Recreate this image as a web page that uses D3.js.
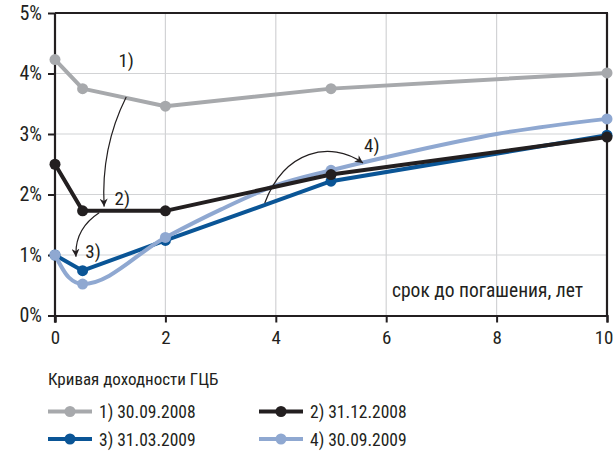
<!DOCTYPE html>
<html>
<head>
<meta charset="utf-8">
<script src="https://cdn.jsdelivr.net/npm/d3@7"></script>
<style>
  body { margin: 0; background: #fff; }
  svg text { font-family: "Liberation Sans Narrow", "Roboto Condensed", "Liberation Sans", sans-serif; fill: #231f20; }
</style>
</head>
<body>
<div id="wrapper"></div>
<script>
// maturities (years) and yields (%)
const mat1 = [0, 0.5, 2, 5, 10];
const yld1 = [4.23, 3.75, 3.46, 3.75, 4.01];
const mat2 = [0, 0.5, 2, 5, 10];
const yld2 = [2.5, 1.73, 1.73, 2.33, 2.95];
const mat3 = [0, 0.5, 2, 5, 10];
const yld3 = [1.0, 0.74, 1.24, 2.22, 2.98];
const mat4 = [0, 0.25, 0.5, 2, 3, 4, 5, 6.5, 8, 10];
const yld4 = [1.0, 0.63, 0.52, 1.29, 1.75, 2.15, 2.40, 2.72, 3.00, 3.25];
const marked4 = [0, 0.5, 2, 5, 10];

const seriesNames = ["1) 30.09.2008", "2) 31.12.2008", "3) 31.03.2009", "4) 30.09.2009"];
const seriesColors = ["#a7a9ac", "#231f20", "#0a5596", "#8fa8d1"];
const xTicks = [0, 2, 4, 6, 8, 10];
const yTicks = [0, 1, 2, 3, 4, 5];

function draw() {
  const dims = { width: 613, height: 455, left: 55, right: 607, top: 13, bottom: 315.5 };

  const svg = d3.select("#wrapper").append("svg")
    .attr("width", dims.width)
    .attr("height", dims.height);

  const xScale = d3.scaleLinear().domain([0, 10]).range([dims.left, dims.right]);
  const yScale = d3.scaleLinear().domain([0, 5]).range([dims.bottom, dims.top]);

  // grid
  const grid = svg.append("g").attr("stroke", "#d2d3d5").attr("stroke-width", 1.2);
  grid.selectAll("line.gx").data(xTicks.slice(1, -1)).enter().append("line")
    .attr("x1", d => xScale(d)).attr("x2", d => xScale(d))
    .attr("y1", yScale(0)).attr("y2", yScale(5));
  grid.selectAll("line.gy").data(yTicks.slice(1, -1)).enter().append("line")
    .attr("x1", xScale(0)).attr("x2", xScale(10))
    .attr("y1", d => yScale(d)).attr("y2", d => yScale(d));

  // axes
  const yAxisGen = d3.axisLeft(yScale).tickValues(yTicks).tickSize(7).tickPadding(6).tickFormat(d => d + "%");
  const xAxisGen = d3.axisBottom(xScale).tickValues(xTicks).tickSize(7).tickPadding(8).tickFormat(d => d);
  const axisY = svg.append("g").attr("transform", `translate(${dims.left},0)`).call(yAxisGen);
  const axisX = svg.append("g").attr("transform", `translate(0,${dims.bottom})`).call(xAxisGen);
  [axisX, axisY].forEach(a => {
    a.select(".domain").attr("stroke", "#231f20").attr("stroke-width", 2.2);
    a.selectAll(".tick line").attr("stroke", "#231f20").attr("stroke-width", 2);
    a.selectAll(".tick text").attr("fill", "#231f20");
  });
  axisY.selectAll(".tick text").attr("font-size", 20);
  axisX.selectAll(".tick text").attr("font-size", 19);
  axisX.selectAll(".tick text").filter(d => d === 10).attr("text-anchor", "end").attr("x", 6);
  axisY.select(".domain").attr("d", `M0,${yScale(0) + 7}V${yScale(5)}`);
  // frame top / right
  svg.append("line").attr("x1", xScale(0)).attr("x2", xScale(10) + 1)
    .attr("y1", yScale(5)).attr("y2", yScale(5))
    .attr("stroke", "#231f20").attr("stroke-width", 2.2);
  svg.append("line").attr("x1", xScale(10)).attr("x2", xScale(10))
    .attr("y1", yScale(5)).attr("y2", yScale(0))
    .attr("stroke", "#231f20").attr("stroke-width", 2.2);

  // axis title
  svg.append("text").attr("x", xScale(10) - 24).attr("y", yScale(0.31))
    .attr("text-anchor", "end").attr("font-size", 19.5)
    .text("срок до погашения, лет");

  // series
  const series = [
    { x: mat1, y: yld1, marks: mat1, color: seriesColors[0], curve: d3.curveLinear },
    { x: mat3, y: yld3, marks: mat3, color: seriesColors[2], curve: d3.curveLinear },
    { x: mat4, y: yld4, marks: marked4, color: seriesColors[3], curve: d3.curveMonotoneX },
    { x: mat2, y: yld2, marks: mat2, color: seriesColors[1], curve: d3.curveLinear }
  ];
  series.forEach(s => {
    const pts = s.x.map((m, i) => [m, s.y[i]]);
    const lineGen = d3.line().x(d => xScale(d[0])).y(d => yScale(d[1])).curve(s.curve);
    svg.append("path").datum(pts)
      .attr("d", lineGen)
      .attr("fill", "none")
      .attr("stroke", s.color)
      .attr("stroke-width", 4)
      .attr("stroke-linejoin", "round");
    svg.selectAll(null).data(pts.filter(d => s.marks.includes(d[0]))).enter()
      .append("circle")
      .attr("cx", d => xScale(d[0]))
      .attr("cy", d => yScale(d[1]))
      .attr("r", 5.5)
      .attr("fill", s.color);
  });

  // arrows
  svg.append("defs").append("marker")
    .attr("id", "head").attr("viewBox", "0 0 10 10")
    .attr("refX", 10).attr("refY", 5)
    .attr("markerWidth", 11).attr("markerHeight", 8)
    .attr("markerUnits", "userSpaceOnUse")
    .attr("orient", "auto")
    .append("path").attr("d", "M0,0L10,5L0,10L3,5Z").attr("fill", "#231f20");

  const P = (m, y) => `${xScale(m)},${yScale(y)}`;
  const arrows = [
    `M${P(1.29, 3.61)}Q${P(0.83, 2.77)} ${P(0.89, 1.80)}`,
    `M${P(0.80, 1.70)}Q${P(0.35, 1.43)} ${P(0.38, 0.97)}`,
    `M${P(3.80, 1.86)}C${P(4.16, 2.73)} ${P(4.98, 2.90)} ${P(5.58, 2.52)}`
  ];
  svg.selectAll("path.arrow").data(arrows).enter().append("path")
    .attr("class", "arrow")
    .attr("d", d => d)
    .attr("fill", "none")
    .attr("stroke", "#231f20")
    .attr("stroke-width", 1.2)
    .attr("marker-end", "url(#head)");

  // callout labels
  const callouts = [
    { t: "1)", m: 1.15, y: 4.1 },
    { t: "2)", m: 1.08, y: 1.83 },
    { t: "3)", m: 0.55, y: 0.95 },
    { t: "4)", m: 5.6, y: 2.7 }
  ];
  svg.selectAll("text.callout").data(callouts).enter().append("text")
    .attr("class", "callout")
    .attr("x", d => xScale(d.m))
    .attr("y", d => yScale(d.y))
    .attr("font-size", 19)
    .text(d => d.t);

  // legend
  const legend = svg.append("g");
  legend.append("text").attr("x", 48).attr("y", 385).attr("font-size", 17)
    .text("Кривая доходности ГЦБ");
  const items = legend.selectAll("g.item").data(seriesNames).enter().append("g")
    .attr("class", "item")
    .attr("transform", (d, i) => `translate(${i % 2 === 0 ? 48 : 259},${i < 2 ? 411.5 : 439})`);
  items.append("line").attr("x1", 0).attr("x2", 44).attr("y1", 0).attr("y2", 0)
    .attr("stroke", (d, i) => seriesColors[i]).attr("stroke-width", 4);
  items.append("circle").attr("cx", 22).attr("cy", 0).attr("r", 5.5)
    .attr("fill", (d, i) => seriesColors[i]);
  items.append("text").attr("x", 51).attr("y", 6.5).attr("font-size", 17.5)
    .text(d => d);
}

draw();
</script>
</body>
</html>
